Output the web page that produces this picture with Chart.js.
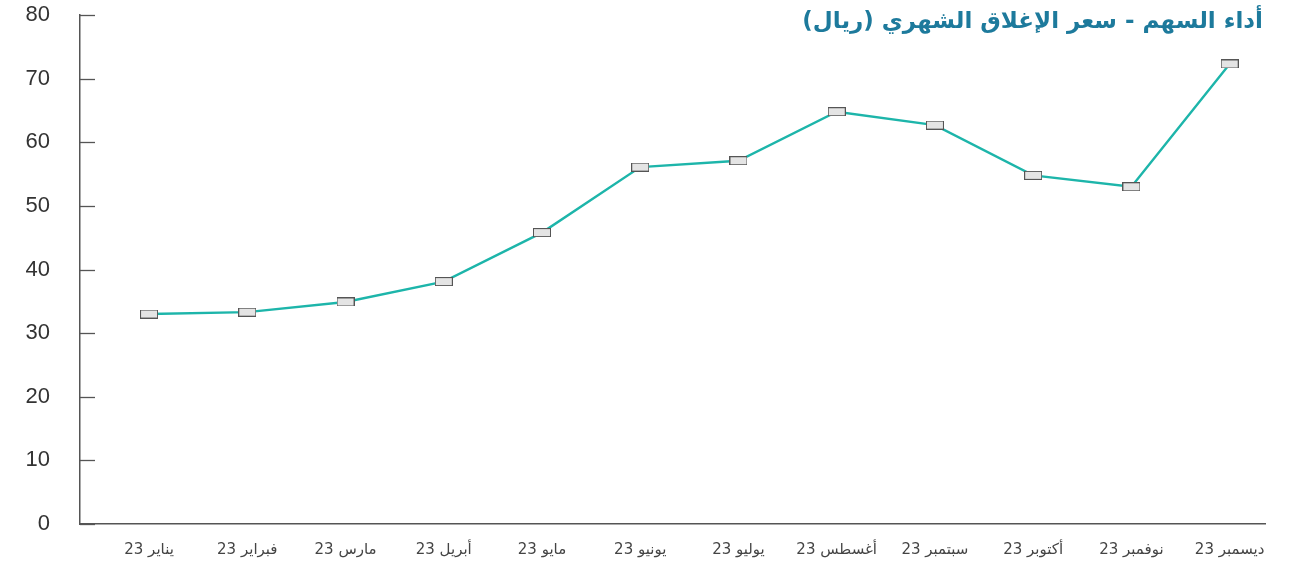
<!DOCTYPE html>
<html lang="ar">
<head>
<meta charset="utf-8">
<script src="https://cdn.jsdelivr.net/npm/chart.js@4.4.1/dist/chart.umd.min.js"></script>
<style>
  html, body { margin: 0; padding: 0; background: #fff; }
  #wrap { width: 1313px; height: 567px; position: relative; }
</style>
</head>
<body>
<div id="wrap"><canvas id="myChart"></canvas></div>
<script>
// Monthly closing price data
const TITLE = 'أداء السهم - سعر الإغلاق الشهري (ريال)';
const MONTHS = ['يناير 23', 'فبراير 23', 'مارس 23', 'أبريل 23', 'مايو 23', 'يونيو 23',
                'يوليو 23', 'أغسطس 23', 'سبتمبر 23', 'أكتوبر 23', 'نوفمبر 23', 'ديسمبر 23'];
const CLOSES = [33.0, 33.3, 34.9, 38.1, 45.8, 56.1, 57.1, 64.8, 62.7, 54.8, 53.0, 72.3];
const Y_TICKS = [0, 10, 20, 30, 40, 50, 60, 70, 80];

const ARABIC_FONT = "'DejaVu Sans', 'Noto Sans', sans-serif";

// Flat rectangle marker used for every point
function makeMarker() {
    const c = document.createElement('canvas');
    c.width = 18; c.height = 9;
    const g = c.getContext('2d');
    g.fillStyle = '#e4e4e4';
    g.fillRect(1, 1, 16, 7);
    g.strokeStyle = '#555';
    g.lineWidth = 1;
    g.strokeRect(0.5, 0.5, 17, 8);
    return c;
}

// Short tick marks drawn inward from the y axis, plus the title
const decorations = {
    id: 'decorations',
    afterDraw(chart) {
        const ctx = chart.ctx;
        const y = chart.scales.y;
        const left = chart.chartArea.left;
        ctx.save();
        ctx.strokeStyle = '#555';
        ctx.lineWidth = 1.3;
        Y_TICKS.forEach(v => {
            const py = Math.round(y.getPixelForValue(v)) + 0.5;
            ctx.beginPath();
            ctx.moveTo(left, py);
            ctx.lineTo(left + 15, py);
            ctx.stroke();
        });
        ctx.direction = 'rtl';
        ctx.textAlign = 'right';
        ctx.textBaseline = 'middle';
        ctx.fillStyle = '#1d7a9c';
        ctx.font = "bold 23px " + ARABIC_FONT;
        ctx.fillText(TITLE, chart.width - 50, 22);
        ctx.restore();
    }
};

new Chart(document.getElementById('myChart'), {
    type: 'line',
    data: {
        datasets: [{
            data: CLOSES.map((v, i) => ({ x: i, y: v })),
            borderColor: '#1db5aa',
            borderWidth: 2.4,
            tension: 0,
            fill: false,
            pointStyle: makeMarker(),
            pointRadius: 5,
            pointHoverRadius: 5,
            clip: false
        }]
    },
    options: {
        responsive: true,
        maintainAspectRatio: false,
        animation: false,
        layout: { padding: { top: 15, right: 48, left: 0, bottom: 0 } },
        plugins: {
            legend: { display: false },
            tooltip: { enabled: false },
            title: { display: false }
        },
        scales: {
            x: {
                type: 'linear',
                min: -0.703,
                max: 11.36,
                afterBuildTicks: s => { s.ticks = MONTHS.map((m, i) => ({ value: i })); },
                afterFit: s => { s.height = 43; s.paddingTop = 0; },
                grid: { display: false, drawTicks: false },
                border: { display: true, color: '#555', width: 1.5 },
                ticks: {
                    autoSkip: false,
                    maxRotation: 0,
                    padding: 17,
                    color: '#444',
                    font: { size: 15, family: ARABIC_FONT },
                    callback: v => MONTHS[v]
                }
            },
            y: {
                min: 0,
                max: 80,
                afterBuildTicks: s => { s.ticks = Y_TICKS.map(v => ({ value: v })); },
                afterFit: s => { s.width = 80; s.paddingTop = 0; s.paddingBottom = 0; },
                grid: { display: false, drawTicks: false },
                border: { display: true, color: '#555', width: 1.5 },
                ticks: {
                    padding: 30,
                    color: '#333',
                    font: { size: 22, family: "'Liberation Sans', Arial, sans-serif" }
                }
            }
        }
    },
    plugins: [decorations]
});
</script>
</body>
</html>
